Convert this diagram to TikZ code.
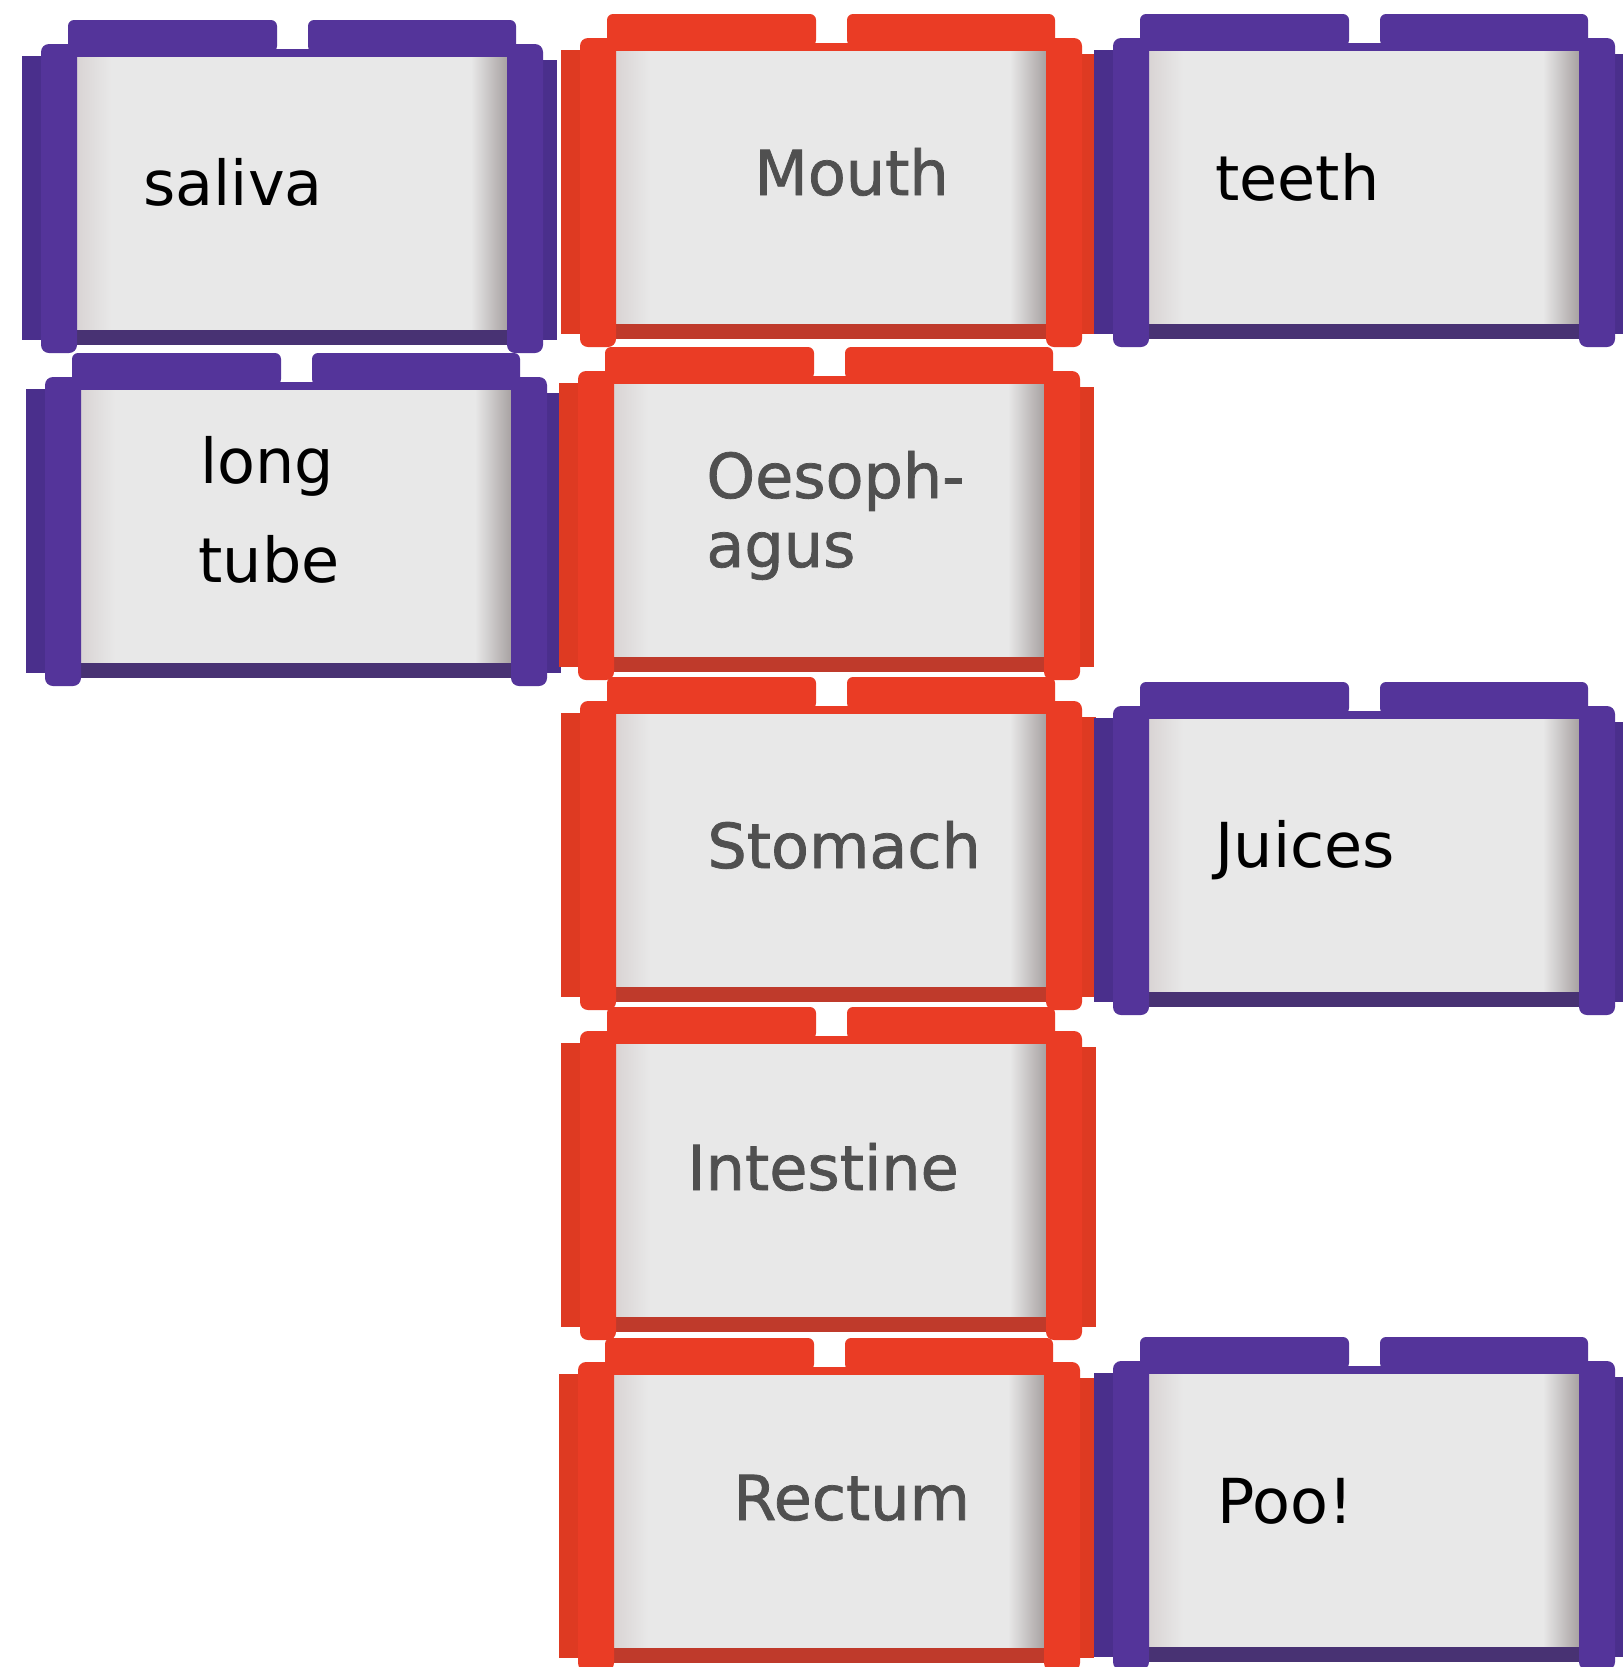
\documentclass[tikz,border=0pt]{standalone}
\usepackage{xcolor}
\usepackage{fontspec}
\usepackage{tikz}
\setmainfont{DejaVu Sans}

\definecolor{purplemain}{HTML}{54349A}
\definecolor{purpleback}{HTML}{4A2F8C}
\definecolor{purpledark}{HTML}{483273}
\definecolor{redmain}{HTML}{EA3C25}
\definecolor{redback}{HTML}{DE3A22}
\definecolor{reddark}{HTML}{BF3A2B}
\definecolor{face}{HTML}{E8E8E8}
\definecolor{faceedge}{HTML}{D9D4D4}
\definecolor{faceshadow}{HTML}{A8A2A2}
\definecolor{purpletext}{HTML}{000000}
\definecolor{redtext}{HTML}{505050}

\tikzset{lbl/.style={anchor=base west, inner sep=0pt, font=\fontsize{31}{37}\selectfont},
  redlbl/.style={lbl, text=redtext, font=\fontsize{31}{37}\selectfont\addfontfeatures{FakeBold=1.2}}}

% one brick: #1 x, #2 y (top of tabs), #3 colour prefix
\newcommand{\brick}[3]{%
\begin{scope}[shift={(#1,#2)}]
\fill[#3back] (-19,36) rectangle (0,320);
\fill[#3back] (502,40) rectangle (516,320);
\fill[#3main, rounded corners=3] (27,0) rectangle (236,32);
\fill[#3main, rounded corners=3] (267,0) rectangle (475,32);
\fill[#3main] (36,29) rectangle (466,37);
\fill[face] (36,37) rectangle (466,310);
\shade[left color=faceedge, right color=face] (36,37) rectangle (70,310);
\shade[left color=face, right color=faceshadow] (430,37) rectangle (466,310);
\fill[#3dark] (36,310) rectangle (466,325);
\fill[#3main, rounded corners=4] (0,24) rectangle (36,333);
\fill[#3main, rounded corners=4] (466,24) rectangle (502,333);
\end{scope}}

\begin{document}
\begin{tikzpicture}[x=0.5pt,y=-0.5pt]
\useasboundingbox[fill=white] (0,0) rectangle (1623,1667);
\clip (0,0) rectangle (1623,1667);
%Bricks
\brick{41}{20}{purple}
\brick{45}{353}{purple}
\brick{580}{14}{red}
\brick{578}{347}{red}
\brick{580}{677}{red}
\brick{580}{1007}{red}
\brick{578}{1338}{red}
\brick{1113}{14}{purple}
\brick{1113}{682}{purple}
\brick{1113}{1337}{purple}
%Text
\draw (143,205) node (saliva) [lbl, purpletext] {saliva};
\draw (200,483) node (long) [lbl, purpletext] {long};
\draw (198,582) node (tube) [lbl, purpletext] {tube};
\draw (754,195) node (mouth) [redlbl] {Mouth};
\draw (706,498) node (oesoph) [redlbl] {Oesoph-};
\draw (706,567) node (agus) [redlbl] {agus};
\draw (707,868) node (stomach) [redlbl] {Stomach};
\draw (687,1190) node (intestine) [redlbl] {Intestine};
\draw (733,1520) node (rectum) [redlbl] {Rectum};
\draw (1215,200) node (teeth) [lbl, purpletext] {teeth};
\draw (1215,867) node (juices) [lbl, purpletext] {Juices};
\draw (1217,1523) node (poo) [lbl, purpletext] {Poo!};
\end{tikzpicture}
\end{document}
